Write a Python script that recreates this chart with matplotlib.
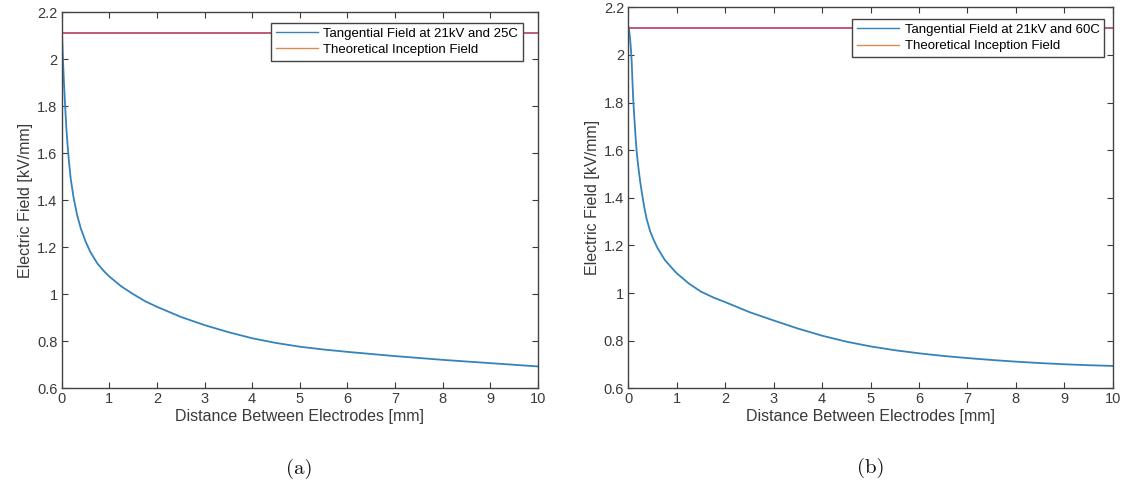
import matplotlib
matplotlib.use('Agg')
import matplotlib.pyplot as plt
from matplotlib.lines import Line2D

plt.rcParams['font.family'] = ['Liberation Sans', 'DejaVu Sans']

# (a) 21kV, 25C
x_a = [0, 0.01, 0.02, 0.03, 0.045, 0.06, 0.08, 0.1, 0.125, 0.15, 0.19, 0.25, 0.32, 0.4,
       0.5, 0.6, 0.75, 0.9, 1.0, 1.25, 1.5, 1.75, 2, 2.5, 3, 3.5, 4, 4.5, 5, 5.5, 6,
       6.5, 7, 7.5, 8, 8.5, 9, 9.5, 10]
field_a = [2.14, 2.09, 2.03, 1.98, 1.91, 1.85, 1.77, 1.70, 1.63, 1.57, 1.49, 1.41, 1.34,
           1.28, 1.225, 1.18, 1.13, 1.095, 1.075, 1.033, 1.0, 0.97, 0.946, 0.903, 0.868,
           0.838, 0.812, 0.792, 0.776, 0.764, 0.754, 0.745, 0.736, 0.728, 0.72, 0.713,
           0.706, 0.699, 0.692]
inception_a = 2.11

# (b) 21kV, 60C
x_b = [0, 0.02, 0.04, 0.055, 0.07, 0.085, 0.1, 0.12, 0.145, 0.17, 0.2, 0.24, 0.28, 0.33,
       0.38, 0.45, 0.52, 0.6, 0.75, 0.9, 1.0, 1.25, 1.5, 1.75, 2, 2.5, 3, 3.5, 4, 4.5,
       5, 5.5, 6, 6.5, 7, 7.5, 8, 8.5, 9, 9.5, 10]
field_b = [2.12, 2.10, 2.06, 2.02, 1.97, 1.89, 1.82, 1.75, 1.67, 1.60, 1.54, 1.475, 1.42,
           1.36, 1.31, 1.26, 1.225, 1.19, 1.14, 1.105, 1.083, 1.04, 1.006, 0.982, 0.962,
           0.920, 0.885, 0.851, 0.821, 0.796, 0.776, 0.760, 0.747, 0.736, 0.727, 0.719,
           0.712, 0.706, 0.701, 0.697, 0.694]
inception_b = 2.113

labels_a = ['Tangential Field at 21kV and 25C', 'Theoretical Inception Field']
labels_b = ['Tangential Field at 21kV and 60C', 'Theoretical Inception Field']

blue = '#3483bb'
orange = '#d98c50'
red = '#b8506a'
ink = '#3a3a3a'

fig = plt.figure(figsize=(11.24, 4.86), dpi=100)
ax_a = fig.add_axes([0.0549, 0.2016, 0.4235, 0.7731])
ax_b = fig.add_axes([0.559, 0.2010, 0.4310, 0.7840])


def draw(ax, x, y, inc, labels, anchor, caption, cap_y):
    ax.plot(x, y, color=blue, lw=1.3, solid_joinstyle='round')
    ax.axhline(inc, color=red, lw=1.3)
    ax.set_xlim(0, 10)
    ax.set_ylim(0.6, 2.2)
    ax.set_xticks(range(0, 11))
    ax.set_yticks([0.6, 0.8, 1, 1.2, 1.4, 1.6, 1.8, 2, 2.2])
    ax.set_yticklabels(['0.6', '0.8', '1', '1.2', '1.4', '1.6', '1.8', '2', '2.2'])
    ax.tick_params(direction='in', top=True, right=True, length=4, width=0.8,
                   labelsize=10.5, colors=ink, pad=3)
    for s in ax.spines.values():
        s.set_color('#444444')
        s.set_linewidth(1.0)
    ax.set_xlabel('Distance Between Electrodes [mm]', fontsize=11.5, color=ink, labelpad=2)
    ax.set_ylabel('Electric Field [kV/mm]', fontsize=11.5, color=ink, labelpad=3)
    handles = [Line2D([], [], color=blue, lw=1.0), Line2D([], [], color=orange, lw=1.0)]
    leg = ax.legend(handles, labels, loc='upper right', bbox_to_anchor=anchor,
                    fontsize=9.5, handlelength=3.2, handletextpad=0.4, labelspacing=0.3,
                    borderpad=0.35, borderaxespad=0, fancybox=False, framealpha=1,
                    edgecolor='#444444')
    leg.get_frame().set_linewidth(1.0)
    ax.text(0.5, cap_y, caption, transform=ax.transAxes, ha='center', va='center',
            fontsize=15, family='cmr10', color='#111111')


draw(ax_a, x_a, field_a, inception_a, labels_a, (0.969, 0.9715), '(a)', -0.215)
draw(ax_b, x_b, field_b, inception_b, labels_b, (0.982, 0.969), '(b)', -0.21)

fig.savefig('out.png', dpi=100)
